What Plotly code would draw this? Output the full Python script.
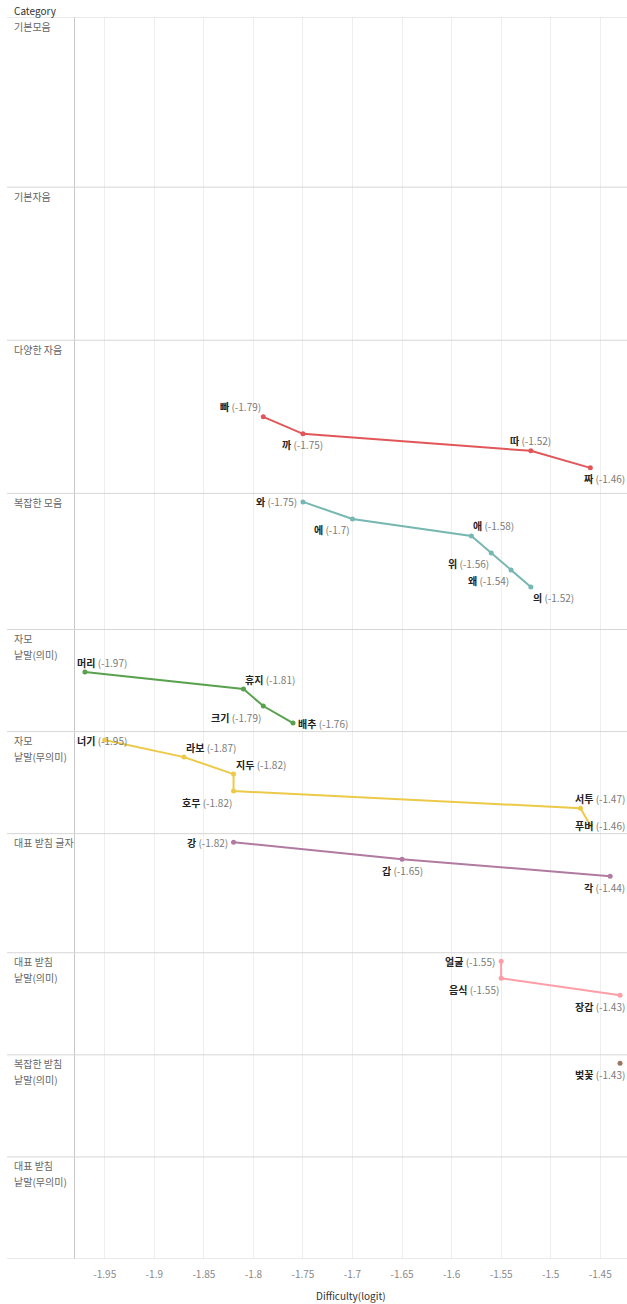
import plotly.graph_objects as go

# ---------------- data ----------------
CATEGORIES = ["기본모음", "기본자음", "다양한 자음", "복잡한 모음", "자모 낱말(의미)",
              "자모 낱말(무의미)", "대표 받침 글자", "대표 받침 낱말(의미)",
              "복잡한 받침 낱말(의미)", "대표 받침 낱말(무의미)"]

WORDS = ["빠", "까", "따", "짜",
         "와", "에", "애", "위", "왜", "의",
         "머리", "휴지", "크기", "배추",
         "너기", "라보", "지두", "호무", "서투", "푸버",
         "강", "갑", "각",
         "얼굴", "음식", "장갑",
         "벚꽃"]
WORD_CATEGORY = (["다양한 자음"] * 4 + ["복잡한 모음"] * 6 + ["자모 낱말(의미)"] * 4 +
                 ["자모 낱말(무의미)"] * 6 + ["대표 받침 글자"] * 3 +
                 ["대표 받침 낱말(의미)"] * 3 + ["복잡한 받침 낱말(의미)"])
DIFFICULTY = [-1.79, -1.75, -1.52, -1.46,
              -1.75, -1.70, -1.58, -1.56, -1.54, -1.52,
              -1.97, -1.81, -1.79, -1.76,
              -1.95, -1.87, -1.82, -1.82, -1.47, -1.46,
              -1.82, -1.65, -1.44,
              -1.55, -1.55, -1.43,
              -1.43]

X_TICKS = [-1.95, -1.9, -1.85, -1.8, -1.75, -1.7, -1.65, -1.6, -1.55, -1.5, -1.45]
X_TICK_LABELS = ["-1.95", "-1.9", "-1.85", "-1.8", "-1.75", "-1.7", "-1.65",
                 "-1.6", "-1.55", "-1.5", "-1.45"]

# ---------------- layout / style ----------------
PANEL_ROWS = [10, 9, 9, 8, 6, 6, 7, 6, 6, 6]
FIRST_ROW = [0, 0, 4, 0, 2, 0, 0, 0, 0, 0]
COLORS = ["#4E79A7", "#F28E2B", "#E15759", "#76B7B2", "#59A14F",
          "#EDC948", "#B07AA1", "#FF9DA7", "#9C755F", "#BAB0AC"]
# (horizontal placement, vertical placement) for each label
LABEL_POS = [("l", -1), ("c", 1), ("c", -1), ("R", 1),
             ("l", 0), ("l", 1), ("r", -1), ("l", 1), ("l", 1), ("r", 1),
             ("L", -1), ("r", -1), ("l", 1), ("r", 0),
             ("L", 0), ("r", -1), ("r", -1), ("l", 1), ("R", -1), ("R", 0),
             ("l", 0), ("c", 1), ("R", 1),
             ("l", 0), ("l", 1), ("R", 1),
             ("R", 1)]
X_RANGE = [-1.980, -1.423]
FONT = "Noto Sans CJK KR, Noto Sans, sans-serif"
W, H = 627, 1304
ML, MR, MT, MB = 75, 0, 17, 45
PLOT_W = W - ML - MR
PLOT_H = H - MT - MB

panel_start = []
acc = 0
for n in PANEL_ROWS:
    panel_start.append(acc)
    acc += n
TOTAL_ROWS = acc

fig = go.Figure()

# compute row positions
word_y = []
counters = {c: 0 for c in CATEGORIES}
for w, c in zip(WORDS, WORD_CATEGORY):
    ci = CATEGORIES.index(c)
    y = panel_start[ci] + FIRST_ROW[ci] + counters[c] + 0.5
    counters[c] += 1
    word_y.append(y)

for ci, cat in enumerate(CATEGORIES):
    idx = [i for i, c in enumerate(WORD_CATEGORY) if c == cat]
    if not idx:
        continue
    fig.add_trace(go.Scatter(
        x=[DIFFICULTY[i] for i in idx],
        y=[word_y[i] for i in idx],
        mode="lines+markers",
        line=dict(color=COLORS[ci], width=2),
        marker=dict(color=COLORS[ci], size=5),
        showlegend=False,
        hoverinfo="skip",
    ))

annotations = []
for i, w in enumerate(WORDS):
    h, v = LABEL_POS[i]
    text = f"<b>{w}</b> <span style='color:#7a7a7a'>({DIFFICULTY[i]:g})</span>"
    ann = dict(text=text, y=word_y[i], yref="y", showarrow=False,
               font=dict(family=FONT, size=10, color="#222222"),
               yanchor="middle", xanchor="center", x=DIFFICULTY[i], xref="x")
    ann["yshift"] = {-1: 10, 0: 0, 1: -11}[v]
    if h == "l":
        ann["xanchor"] = "right"
        ann["xshift"] = -4 if v == 0 else 0
    elif h == "r":
        ann["xanchor"] = "left"
        ann["xshift"] = 3 if v == 0 else 0
    elif h == "L":
        ann["xref"] = "paper"
        ann["x"] = 0
        ann["xanchor"] = "left"
    elif h == "R":
        ann["xref"] = "paper"
        ann["x"] = 1
        ann["xanchor"] = "right"
    annotations.append(ann)

# category labels
label_x = (12 - ML) / PLOT_W
for ci, cat in enumerate(CATEGORIES):
    if "낱말" in cat:
        k = cat.index("낱말")
        lines = [cat[:k].strip(), cat[k:]]
    else:
        lines = [cat]
    for j, ln in enumerate(lines):
        annotations.append(dict(
            text=ln, xref="paper", x=label_x, xanchor="left",
            yref="y", y=panel_start[ci], yanchor="middle", yshift=-(9 + 16 * j),
            showarrow=False, font=dict(family=FONT, size=10, color="#666666")))

annotations.append(dict(text="Category", xref="paper", x=label_x, xanchor="left",
                        yref="paper", y=1, yanchor="middle", yshift=7, showarrow=False,
                        font=dict(family=FONT, size=10, color="#333333")))
annotations.append(dict(text="Difficulty(logit)", xref="paper", x=0.5, xanchor="center",
                        yref="paper", y=0, yanchor="middle", yshift=-36, showarrow=False,
                        font=dict(family=FONT, size=10, color="#333333")))

shapes = []
sep_x0 = (7 - ML) / PLOT_W
for b in panel_start + [TOTAL_ROWS]:
    shapes.append(dict(type="line", xref="paper", x0=sep_x0, x1=1, yref="y", y0=b, y1=b,
                       line=dict(color="#d6d6d6", width=1), layer="above"))

fig.update_layout(
    width=W, height=H,
    margin=dict(l=ML, r=MR, t=MT, b=MB),
    paper_bgcolor="white", plot_bgcolor="white",
    font=dict(family=FONT, size=10, color="#333333"),
    annotations=annotations, shapes=shapes,
    xaxis=dict(range=X_RANGE, tickvals=X_TICKS, ticktext=X_TICK_LABELS,
               showgrid=True, gridcolor="#eeeeee", gridwidth=1, zeroline=False,
               showline=False, ticks="", ticklabelstandoff=8,
               tickfont=dict(family=FONT, size=10, color="#8a8a8a")),
    yaxis=dict(range=[TOTAL_ROWS, 0], showgrid=False, zeroline=False,
               showticklabels=False, ticks="", showline=True,
               linecolor="#c8c8c8", linewidth=1),
)

fig.write_html(
    "out.html",
    config={"displayModeBar": False},
    post_script="document.body.style.margin='0';document.body.style.padding='0';"
                "document.documentElement.style.overflow='hidden';",
)
